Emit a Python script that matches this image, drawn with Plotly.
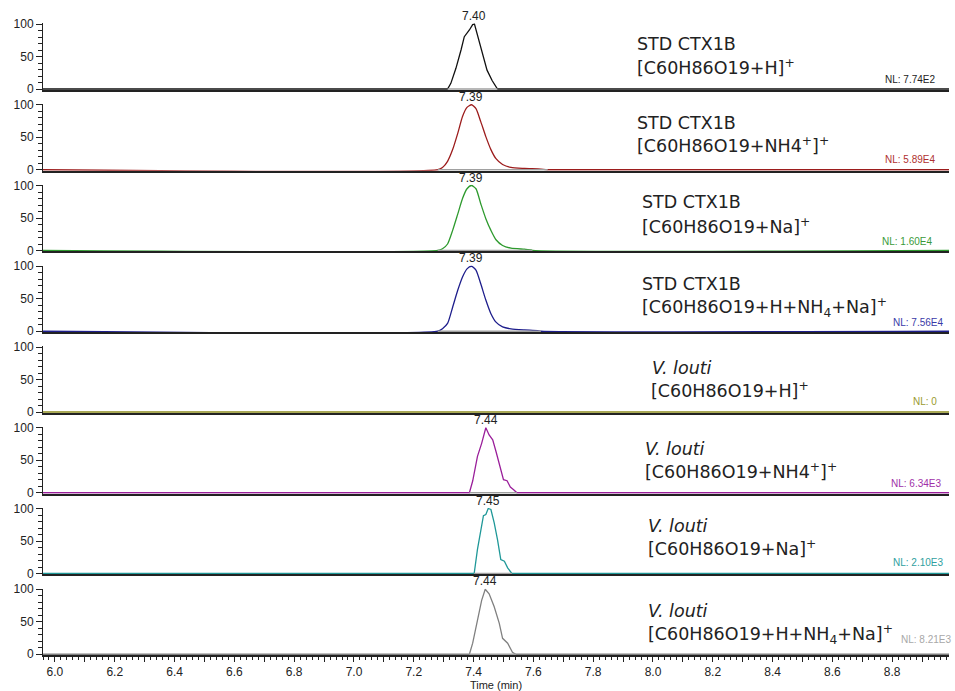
import plotly.graph_objects as go
from plotly.subplots import make_subplots

# Acquisition window (min)
RUN_START, RUN_END = 5.96, 8.99

# Extracted-ion chromatograms, one per row (top to bottom)
sample_names = ["STD CTX1B", "STD CTX1B", "STD CTX1B", "STD CTX1B",
                "<i>V. louti</i>", "<i>V. louti</i>", "<i>V. louti</i>", "<i>V. louti</i>"]
adducts = ["[C60H86O19+H]<sup>+</sup>",
           "[C60H86O19+NH4<sup>+</sup>]<sup>+</sup>",
           "[C60H86O19+Na]<sup>+</sup>",
           "[C60H86O19+H+NH<sub>4</sub>+Na]<sup>+</sup>",
           "[C60H86O19+H]<sup>+</sup>",
           "[C60H86O19+NH4<sup>+</sup>]<sup>+</sup>",
           "[C60H86O19+Na]<sup>+</sup>",
           "[C60H86O19+H+NH<sub>4</sub>+Na]<sup>+</sup>"]
nl_levels = ["NL: 7.74E2", "NL: 5.89E4", "NL: 1.60E4", "NL: 7.56E4",
             "NL: 0", "NL: 6.34E3", "NL: 2.10E3", "NL: 8.21E3"]

# Peak profiles: retention time (min) and relative abundance (%)
std_h_time = [7.313, 7.324, 7.341, 7.358, 7.369, 7.386, 7.397, 7.403, 7.425, 7.445, 7.462, 7.480]
std_h_rel = [0, 8.7, 31.8, 60, 80.5, 90.8, 99, 100, 62, 29, 13, 0]

std_nh4_time = [7.280, 7.296, 7.313, 7.330, 7.347, 7.363, 7.378, 7.393, 7.408, 7.424, 7.441,
                7.458, 7.475, 7.497, 7.525, 7.570, 7.625, 7.648]
std_nh4_rel = [0, 3.5, 13, 31, 56, 82, 96, 100, 94, 74, 51, 31, 17, 8, 3.5, 2, 1, 0]

std_na_time = [7.280, 7.296, 7.313, 7.330, 7.347, 7.363, 7.378, 7.393, 7.408, 7.424, 7.441,
               7.458, 7.475, 7.497, 7.525, 7.570, 7.592, 7.597]
std_na_rel = [0, 2.6, 10, 31, 56, 80, 95, 100, 95, 72, 49, 31, 16.5, 7.7, 3.6, 2, 1, 0]

std_mix_time = [7.280, 7.296, 7.313, 7.330, 7.347, 7.363, 7.378, 7.393, 7.408, 7.424, 7.441,
                7.458, 7.475, 7.497, 7.525, 7.570, 7.614, 7.625]
std_mix_rel = [0, 4, 12, 37, 63, 83.5, 96, 100, 94, 73, 48, 27, 14, 6.6, 3.6, 2, 1, 0]

vl_h_time = []
vl_h_rel = []

vl_nh4_time = [7.386, 7.397, 7.413, 7.427, 7.441, 7.452, 7.464, 7.475, 7.486, 7.500, 7.512,
               7.523, 7.534, 7.545]
vl_nh4_rel = [0, 18, 56, 76, 100, 89, 81.5, 63.5, 45.6, 20, 18.5, 8.7, 4.6, 0]

vl_na_time = [7.402, 7.413, 7.424, 7.433, 7.441, 7.449, 7.458, 7.469, 7.480, 7.491, 7.503,
              7.514, 7.528]
vl_na_rel = [0, 37, 62.6, 89, 90.8, 100, 98.5, 78, 52, 21.5, 19, 8.7, 0]

vl_mix_time = [7.386, 7.397, 7.413, 7.427, 7.439, 7.452, 7.469, 7.486, 7.497, 7.514, 7.530, 7.541]
vl_mix_rel = [0, 17, 52.5, 83, 100, 93, 73, 47.5, 24.5, 17, 3, 0]

peak_times = [std_h_time, std_nh4_time, std_na_time, std_mix_time,
              vl_h_time, vl_nh4_time, vl_na_time, vl_mix_time]
peak_rels = [std_h_rel, std_nh4_rel, std_na_rel, std_mix_rel,
             vl_h_rel, vl_nh4_rel, vl_na_rel, vl_mix_rel]

# Styling
line_colors = ["#111111", "#9c1c1c", "#2e9a2e", "#1e1e8c",
               "#8c8c1e", "#9a1f9a", "#1f9898", "#808080"]
nl_colors = ["#222222", "#b03030", "#3a9a3a", "#3a3aa8",
             "#9a9a30", "#a030a8", "#30a0a0", "#a8a8a8"]
smooth_rows = [False, True, True, True, False, False, False, False]

# Label placement (pixels): left edge of the names, offsets above each baseline
name_left = [635, 635, 640, 640, 650, 643, 646, 646]
adduct_left = [635, 635, 640, 640, 649, 643, 646, 646]
name_dy = [45.3, 46.3, 48.3, 47.0, 44.5, 44.0, 48.0, 43.0]
adduct_dy = [22.5, 24.5, 24.5, 24.0, 22.0, 21.3, 25.5, 20.0]
nl_right = [937, 937, 934, 945, 939, 943, 945, 953]
nl_dy = [9.7, 10.7, 9.3, 8.3, 11.0, 9.0, 11.3, 15.0]

# Page geometry
W, H = 955, 691
M_L, M_R, M_T, M_B = 43, 6, 23, 35
PLOT_H = H - M_T - M_B
PLOT_W = W - M_L - M_R
PX_PER_UNIT = 0.65
Y_LO, Y_HI = -1.5, 101
row_base = [89 + i * 80.75 for i in range(8)]
N = len(peak_times)

fig = make_subplots(rows=N, cols=1, shared_xaxes=True, vertical_spacing=0.01)

annotations = []
for i in range(N):
    r = i + 1
    t = [RUN_START] + peak_times[i] + [RUN_END]
    v = [0] + peak_rels[i] + [0]
    fig.add_trace(go.Scatter(
        x=t, y=v, mode="lines",
        line=dict(color=line_colors[i], width=1.3,
                  shape="spline" if smooth_rows[i] else "linear",
                  smoothing=0.6),
        hoverinfo="skip", showlegend=False), row=r, col=1)
    if peak_times[i]:
        # integration baseline under the peak
        fig.add_trace(go.Scatter(
            x=[peak_times[i][0], peak_times[i][-1]], y=[0, 0], mode="lines",
            line=dict(color="#a0a0a0", width=1.4),
            hoverinfo="skip", showlegend=False), row=r, col=1)
        k = peak_rels[i].index(max(peak_rels[i]))
        apex_t = peak_times[i][k]
        annotations.append(dict(
            x=apex_t, y=peak_rels[i][k], xref="x" + ("" if r == 1 else str(r)),
            yref="y" + ("" if r == 1 else str(r)),
            text=f"{apex_t:.2f}", showarrow=False, xanchor="center", yanchor="bottom",
            yshift=-1, font=dict(family="Liberation Sans, Arial", size=12, color="#222")))

    yref = "y" + ("" if r == 1 else str(r))
    annotations.append(dict(
        x=(name_left[i] - M_L) / PLOT_W, xref="paper",
        y=name_dy[i] / PX_PER_UNIT, yref=yref,
        text=sample_names[i], showarrow=False, xanchor="left", yanchor="middle",
        font=dict(family="DejaVu Sans", size=17.5, color="#222")))
    annotations.append(dict(
        x=(adduct_left[i] - M_L) / PLOT_W, xref="paper",
        y=adduct_dy[i] / PX_PER_UNIT, yref=yref,
        text=adducts[i], showarrow=False, xanchor="left", yanchor="middle",
        font=dict(family="DejaVu Sans", size=17.5, color="#222")))
    annotations.append(dict(
        x=(nl_right[i] - M_L) / PLOT_W, xref="paper",
        y=nl_dy[i] / PX_PER_UNIT, yref=yref,
        text=nl_levels[i], showarrow=False, xanchor="right", yanchor="middle",
        font=dict(family="Liberation Sans, Arial", size=10, color=nl_colors[i])))

    # vertical extent of this row
    bottom_px = row_base[i] - Y_LO * PX_PER_UNIT
    top_px = row_base[i] - Y_HI * PX_PER_UNIT
    lo = max(0.0, (M_T + PLOT_H - bottom_px) / PLOT_H)
    hi = min(1.0, (M_T + PLOT_H - top_px) / PLOT_H)
    fig.update_yaxes(
        domain=[lo, hi], range=[Y_LO, Y_HI], row=r, col=1,
        showline=True, linecolor="#222", linewidth=1,
        ticks="outside", ticklen=6, tickwidth=1, tickcolor="#222",
        tickmode="linear", tick0=0, dtick=50,
        minor=dict(ticks="outside", ticklen=4, tickwidth=1, tickcolor="#222",
                   tickmode="linear", tick0=0, dtick=10, showgrid=False),
        showgrid=False, zeroline=False,
        tickfont=dict(family="Liberation Sans, Arial", size=12, color="#222"))
    last = (r == N)
    fig.update_xaxes(
        range=[RUN_START, RUN_END], row=r, col=1,
        showline=True, linecolor="#222", linewidth=1.6,
        showgrid=False, zeroline=False,
        ticks="outside" if last else "", showticklabels=last,
        tickmode="linear", tick0=6.0, dtick=0.1, ticklabelstep=2, tickformat=".1f",
        ticklen=5, tickwidth=1, tickcolor="#222",
        minor=dict(ticks="outside" if last else "", ticklen=2.5, tickwidth=1,
                   tickcolor="#222", tickmode="linear", tick0=6.0, dtick=0.02,
                   showgrid=False),
        tickfont=dict(family="Liberation Sans, Arial", size=12, color="#222"))

fig.update_xaxes(title=dict(text="Time (min)", standoff=2,
                            font=dict(family="Liberation Sans, Arial", size=11, color="#222")),
                 row=N, col=1)

fig.update_layout(
    width=W, height=H, template="none",
    paper_bgcolor="white", plot_bgcolor="white",
    margin=dict(l=M_L, r=M_R, t=M_T, b=M_B),
    annotations=annotations, showlegend=False)

fig.write_html("out.html")
